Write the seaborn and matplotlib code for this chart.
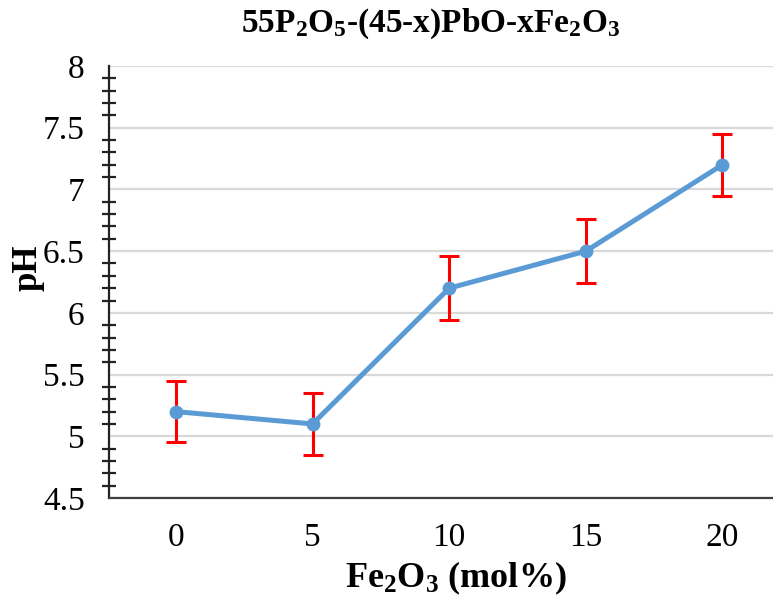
import numpy as np
import pandas as pd
import matplotlib
matplotlib.use("Agg")
import matplotlib.pyplot as plt
from matplotlib.ticker import MultipleLocator
import seaborn as sns

# data
fe2o3 = [0, 5, 10, 15, 20]
ph = [5.2, 5.1, 6.2, 6.5, 7.2]
ph_err = [0.25, 0.25, 0.26, 0.26, 0.25]

sns.set_style("white")
plt.rcParams['font.family'] = ['Liberation Serif', 'DejaVu Serif']
plt.rcParams['mathtext.default'] = 'regular'
plt.rcParams['text.color'] = 'black'

df = pd.DataFrame({"Fe2O3": fe2o3, "pH": ph})

fig = plt.figure(figsize=(7.73, 6.02), dpi=100)
ax = fig.add_axes([109 / 773, 104 / 602, 1 - 109 / 773, 432 / 602])

ax.errorbar(fe2o3, ph, yerr=ph_err, fmt="none", ecolor="#FF0000",
            elinewidth=2.2, capsize=7, capthick=2.2, zorder=2)
sns.lineplot(data=df, x="Fe2O3", y="pH", color="#5B9BD5", linewidth=3.6,
             marker="o", markersize=10, markeredgewidth=0, ax=ax, zorder=3)

ax.set_xlim(-2.45, 21.85)
ax.set_ylim(4.5, 8)
ax.set_xticks(fe2o3)
ax.yaxis.set_major_locator(MultipleLocator(0.5))
ax.yaxis.set_minor_locator(MultipleLocator(0.1))
ax.yaxis.set_major_formatter(plt.FuncFormatter(lambda v, p: f"{v:g}"))

ax.grid(axis="y", which="major", color="#D9D9D9", linewidth=1.6, zorder=0)
ax.set_axisbelow(True)

for s in ["top", "right"]:
    ax.spines[s].set_visible(False)
ax.spines["left"].set_color("#222222")
ax.spines["left"].set_linewidth(1.6)
ax.spines["bottom"].set_color("#404040")
ax.spines["bottom"].set_linewidth(1.6)

ax.tick_params(axis="y", which="major", direction="inout", length=13, width=1.8,
               color="#222222", labelsize=24, labelcolor="black", pad=11)
ax.tick_params(axis="y", which="minor", direction="inout", length=10, width=1.6,
               color="#222222", left=True)
ax.tick_params(axis="x", which="major", direction="inout", length=11, width=1.3,
               color="#404040", labelsize=24, labelcolor="black", pad=12)

ax.set_xlabel("")
ax.set_ylabel("")

fig.text(431 / 773, 1 - 24 / 602, "55P$_2$O$_5$-(45-x)PbO-xFe$_2$O$_3$",
         ha="center", va="center", fontsize=24, fontweight="bold")
fig.text(456 / 773, 1 - 578 / 602, "Fe$_2$O$_3$ (mol%)",
         ha="center", va="center", fontsize=26, fontweight="bold")
fig.text(28 / 773, 1 - 268 / 602, "pH", rotation=90,
         ha="center", va="center", fontsize=25, fontweight="bold")

fig.savefig("out.png", dpi=100)
